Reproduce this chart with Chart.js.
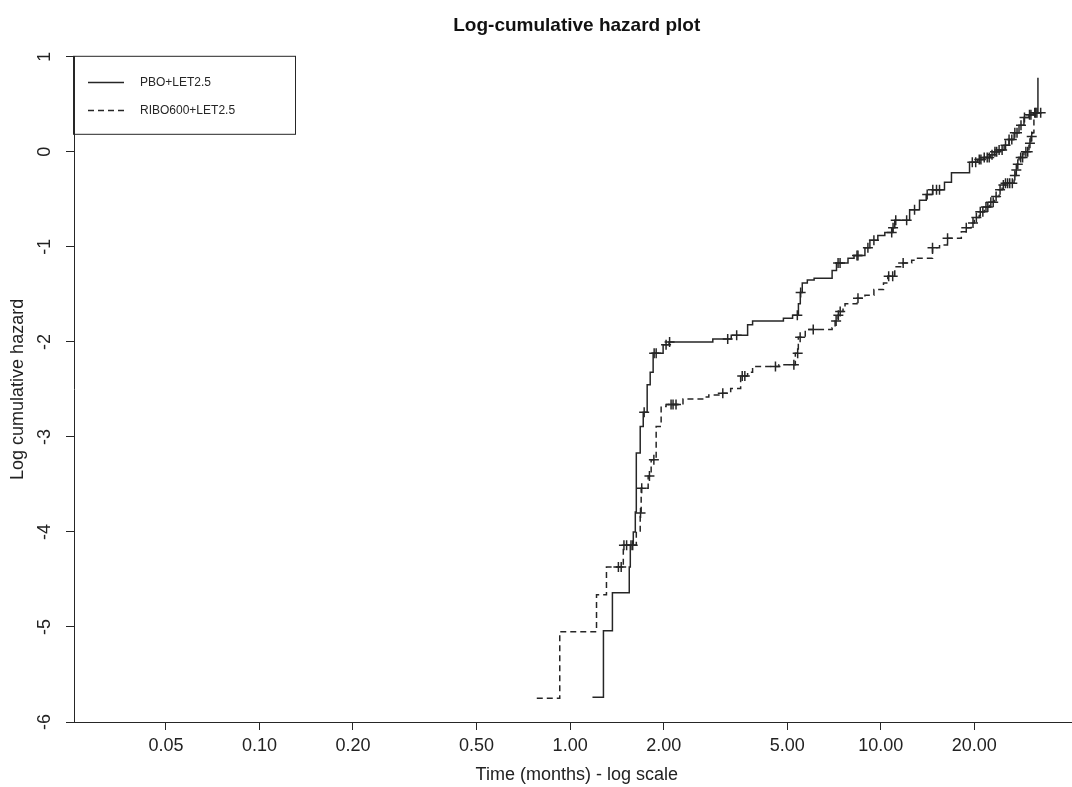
<!DOCTYPE html>
<html>
<head>
<meta charset="utf-8">
<script src="https://cdn.jsdelivr.net/npm/chart.js@4.4.1/dist/chart.umd.min.js"></script>
<style>
  html, body { margin: 0; padding: 0; background: #fff; overflow: hidden; }
  #wrap { width: 1072px; height: 787px; overflow: hidden; }
  canvas { display: block; }
</style>
</head>
<body>
<div id="wrap"><canvas id="myChart" width="1086" height="787"></canvas></div>
<script>
// values (time in months, log cumulative hazard)
const seriesNames = ["PBO+LET2.5", "RIBO600+LET2.5"];

const pboTimes = [1.18, 1.28, 1.368, 1.55, 1.562, 1.597, 1.621, 1.633, 1.681, 1.719,
  1.77, 1.81, 1.85, 1.992, 2.082, 2.879, 3.30, 3.726, 3.866, 4.858,
  5.20, 5.43, 5.506, 5.587, 5.8, 6.1, 6.97, 7.2, 7.841, 8.2,
  8.889, 9.222, 9.781, 10.3, 10.92, 11.09, 12.38, 13.32, 14.0, 14.67,
  16.03, 16.88, 19.3, 20.5, 21.5, 22.5, 23.17, 24.0, 24.94, 25.87,
  26.85, 27.85, 28.89, 29.98, 31.1, 32.04];
const pboHazard = [-5.74, -5.04, -4.64, -4.37, -4.14, -4.00, -3.79, -3.17, -2.89, -2.74,
  -2.45, -2.32, -2.12, -2.03, -2.00, -1.97, -1.93, -1.82, -1.78, -1.75,
  -1.72, -1.60, -1.48, -1.38, -1.35, -1.33, -1.25, -1.17, -1.12, -1.09,
  -1.01, -0.93, -0.88, -0.85, -0.80, -0.72, -0.61, -0.51, -0.45, -0.40,
  -0.32, -0.22, -0.11, -0.08, -0.06, -0.03, 0.00, 0.02, 0.07, 0.13,
  0.20, 0.28, 0.36, 0.39, 0.41, 0.78];
const pboCensored = [1.57, 1.59, 1.731, 1.864, 1.892, 2.036, 2.09, 3.215, 3.436, 5.386,
  5.52, 7.285, 7.393, 8.381, 8.443, 9.087, 9.5, 10.84, 10.95, 11.17,
  12.11, 12.84, 14.1, 14.7, 15.11, 15.45, 19.7, 20.2, 20.74, 21.0,
  21.52, 22.0, 22.33, 22.8, 23.3, 23.6, 24.03, 24.57, 25.2, 25.87,
  26.4, 27.0, 27.44, 28.26, 29.0, 30.1, 30.42, 31.3, 31.8];

const riboTimes = [0.781, 0.926, 1.216, 1.309, 1.483, 1.633, 1.681, 1.693, 1.783, 1.823,
  1.892, 1.963, 2.036, 2.308, 2.694, 2.795, 3.053, 3.287, 3.539, 3.726,
  3.866, 4.7, 5.307, 5.426, 5.712, 6.97, 7.126, 7.285, 7.393, 7.558,
  7.67, 8.381, 8.889, 9.5, 10.2, 10.53, 11.09, 11.76, 12.57, 13.03,
  14.67, 15.45, 16.39, 18.16, 18.84, 19.55, 19.99, 20.74, 21.52, 22.33,
  23.17, 24.03, 24.57, 24.94, 26.85, 27.24, 27.44, 27.85, 28.89, 29.98,
  30.42, 30.8, 31.1, 32.75];
const riboHazard = [-5.75, -5.05, -4.66, -4.37, -4.14, -3.99, -3.80, -3.54, -3.41, -3.24,
  -2.89, -2.68, -2.66, -2.60, -2.58, -2.56, -2.54, -2.49, -2.36, -2.32,
  -2.26, -2.24, -2.12, -1.95, -1.87, -1.85, -1.78, -1.72, -1.68, -1.64,
  -1.60, -1.54, -1.51, -1.45, -1.38, -1.31, -1.21, -1.17, -1.14, -1.12,
  -1.01, -0.98, -0.91, -0.84, -0.80, -0.75, -0.69, -0.63, -0.58, -0.53,
  -0.47, -0.40, -0.35, -0.33, -0.25, -0.19, -0.13, -0.06, 0.00, 0.09,
  0.16, 0.20, 0.41, 0.41];
const riboCensored = [1.43, 1.46, 1.49, 1.52, 1.685, 1.70, 1.80, 1.86, 2.113, 2.144,
  2.192, 3.10, 3.58, 3.65, 4.58, 5.25, 5.40, 5.50, 6.06, 7.18,
  7.30, 7.40, 8.443, 10.6, 10.92, 11.8, 14.67, 16.4, 18.84, 19.8,
  20.3, 20.9, 21.3, 21.8, 22.1, 22.6, 23.0, 23.5, 24.2, 24.8,
  25.2, 25.6, 26.0, 26.5, 27.0, 27.3, 27.6, 28.2, 28.6, 29.3,
  29.7, 30.2, 30.6, 31.5, 32.7];

const xTickValues = [0.05, 0.1, 0.2, 0.5, 1, 2, 5, 10, 20];
const yTickValues = [-6, -5, -4, -3, -2, -1, 0, 1];

const FONT = '"Liberation Sans", Arial, sans-serif';
const INK = "#262626";

// value of the step curve at time t (the censor marks sit on the curve)
function stepValue(times, values, t) {
  let v = values[0];
  for (let i = 0; i < times.length; i++) {
    if (times[i] <= t) v = values[i];
  }
  return v;
}

function curve(times, values) {
  return times.map((t, i) => ({ x: t, y: values[i] }));
}

function marks(times, values, censored) {
  return censored.map(t => ({ x: t, y: stepValue(times, values, t) }));
}

const legendBox = {
  id: "legendBox",
  afterDraw(chart) {
    const { ctx, chartArea } = chart;
    const x0 = chartArea.left;
    const y0 = chartArea.top;
    ctx.save();
    ctx.strokeStyle = INK;
    ctx.lineWidth = 1;
    ctx.strokeRect(x0 - 0.5, y0 - 0.5, 222, 78);
    [0, 1].forEach(i => {
      const ds = chart.data.datasets[i];
      const y = Math.round(y0 + 25 + i * 28) + 0.5;
      ctx.setLineDash(ds.borderDash || []);
      ctx.lineWidth = ds.borderWidth;
      ctx.strokeStyle = ds.borderColor;
      ctx.beginPath();
      ctx.moveTo(x0 + 14, y);
      ctx.lineTo(x0 + 50, y);
      ctx.stroke();
      ctx.setLineDash([]);
      ctx.fillStyle = INK;
      ctx.font = "12px " + FONT;
      ctx.textBaseline = "middle";
      ctx.textAlign = "left";
      ctx.fillText(ds.label, x0 + 66, y);
    });
    ctx.restore();
  }
};

const ctx = document.getElementById("myChart");

new Chart(ctx, {
  type: "line",
  data: {
    datasets: [
      {
        label: seriesNames[0],
        data: curve(pboTimes, pboHazard),
        stepped: true,
        borderColor: INK,
        borderWidth: 1.5,
        pointRadius: 0,
        fill: false
      },
      {
        label: seriesNames[1],
        data: curve(riboTimes, riboHazard),
        stepped: true,
        borderColor: INK,
        borderWidth: 1.5,
        borderDash: [6, 4],
        pointRadius: 0,
        fill: false
      },
      {
        type: "scatter",
        label: seriesNames[0] + " censored",
        data: marks(pboTimes, pboHazard, pboCensored),
        pointStyle: "cross",
        pointRadius: 5,
        borderColor: INK,
        borderWidth: 1.5,
        showLine: false
      },
      {
        type: "scatter",
        label: seriesNames[1] + " censored",
        data: marks(riboTimes, riboHazard, riboCensored),
        pointStyle: "cross",
        pointRadius: 5,
        borderColor: INK,
        borderWidth: 1.5,
        showLine: false
      }
    ]
  },
  options: {
    responsive: false,
    animation: false,
    devicePixelRatio: 1,
    layout: { padding: 0 },
    plugins: {
      legend: { display: false },
      tooltip: { enabled: false },
      title: {
        display: true,
        fullSize: false,
        text: "Log-cumulative hazard plot",
        color: "#111",
        font: { family: FONT, size: 19, weight: "bold" },
        padding: { top: 14, bottom: 20 }
      }
    },
    scales: {
      x: {
        type: "logarithmic",
        position: "bottom",
        min: 0.0253,
        max: 43.6,
        afterBuildTicks: scale => {
          scale.ticks = xTickValues.map(v => ({ value: v }));
        },
        afterFit: scale => { scale.height = 65; },
        ticks: {
          autoSkip: false,
          maxRotation: 0,
          padding: 5,
          color: "#222",
          font: { family: FONT, size: 18 },
          callback: v => Number(v).toFixed(2)
        },
        grid: { drawOnChartArea: false, drawTicks: true, tickLength: 8, color: INK },
        border: { display: true, color: INK, width: 1 },
        title: {
          display: true,
          text: "Time (months) - log scale",
          color: "#222",
          font: { family: FONT, size: 18 },
          padding: { top: 0, bottom: 1 }
        }
      },
      y: {
        type: "linear",
        min: -6,
        max: 1,
        afterBuildTicks: scale => {
          scale.ticks = yTickValues.map(v => ({ value: v }));
        },
        afterFit: scale => { scale.width = 74; },
        ticks: {
          minRotation: 90,
          maxRotation: 90,
          crossAlign: "center",
          padding: 13,
          color: "#222",
          font: { family: FONT, size: 18 },
          callback: v => String(v)
        },
        grid: { drawOnChartArea: false, drawTicks: true, tickLength: 8, color: INK },
        border: { display: true, color: INK, width: 1 },
        title: {
          display: true,
          text: "Log cumulative hazard",
          color: "#222",
          font: { family: FONT, size: 18 },
          padding: { top: 7, bottom: 0 }
        }
      }
    }
  },
  plugins: [legendBox]
});
</script>
</body>
</html>
